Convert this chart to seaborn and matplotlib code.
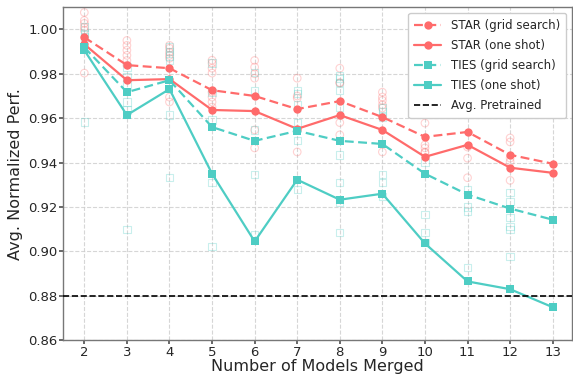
import pandas as pd
import seaborn as sns
import matplotlib.pyplot as plt
import numpy as np

n_models = [2, 3, 4, 5, 6, 7, 8, 9, 10, 11, 12, 13]

star_grid = [0.9964, 0.9839, 0.9825, 0.9726, 0.9700, 0.9641, 0.9677, 0.9605, 0.9516, 0.9538, 0.9435, 0.9395]
star_one = [0.9933, 0.9771, 0.9776, 0.9637, 0.9632, 0.9552, 0.9614, 0.9547, 0.9426, 0.9480, 0.9377, 0.9354]
ties_grid = [0.9919, 0.9717, 0.9771, 0.9560, 0.9498, 0.9543, 0.9498, 0.9484, 0.9350, 0.9256, 0.9193, 0.9143]
ties_one = [0.9906, 0.9614, 0.9731, 0.9350, 0.9045, 0.9323, 0.9233, 0.9260, 0.9036, 0.8865, 0.8830, 0.8749]
avg_pretrained = 0.880

# individual runs (faint markers)
star_runs = {
    2: [1.0076, 1.0040, 1.0027, 1.0010, 0.9996, 0.9803],
    3: [0.9950, 0.9928, 0.9906, 0.9883, 0.9860, 0.9839],
    4: [0.9928, 0.9915, 0.9897, 0.9883, 0.9870, 0.9695, 0.9673],
    5: [0.9861, 0.9848, 0.9825, 0.9803, 0.9717, 0.9695, 0.9673, 0.9650],
    6: [0.9860, 0.9830, 0.9800, 0.9780, 0.9547, 0.9466],
    7: [0.9780, 0.9700, 0.9690, 0.9448],
    8: [0.9825, 0.9760, 0.9758, 0.9580, 0.9525],
    9: [0.9717, 0.9695, 0.9680, 0.9660, 0.9646, 0.9448],
    10: [0.9578, 0.9480, 0.9466, 0.9448, 0.9444],
    11: [0.9628, 0.9470, 0.9420, 0.9332],
    12: [0.9511, 0.9493, 0.9420, 0.9404, 0.9320],
}
ties_runs = {
    2: [1.0010, 0.9980, 0.9965, 0.9583],
    3: [0.9830, 0.9785, 0.9750, 0.9673, 0.9637, 0.9100],
    4: [0.9920, 0.9900, 0.9880, 0.9860, 0.9614, 0.9332],
    5: [0.9848, 0.9717, 0.9592, 0.9310, 0.9022],
    6: [0.9807, 0.9726, 0.9547, 0.9345, 0.9076],
    7: [0.9726, 0.9710, 0.9660, 0.9580, 0.9500, 0.9280],
    8: [0.9790, 0.9780, 0.9760, 0.9726, 0.9650, 0.9435, 0.9310, 0.9220, 0.9085],
    9: [0.9646, 0.9630, 0.9605, 0.9345, 0.9310, 0.9247],
    10: [0.9400, 0.9166, 0.9085, 0.9040],
    11: [0.9278, 0.9200, 0.9180, 0.8928],
    12: [0.9265, 0.9224, 0.9152, 0.9112, 0.9099, 0.8978],
}

red = "#FF6B6B"
teal = "#4ECDC4"

sns.set_theme(style="whitegrid")
plt.rcParams['font.family'] = ['DejaVu Sans']

fig = plt.figure(figsize=(5.73, 3.76), dpi=100)
ax = fig.add_axes([0.110, 0.095, 0.888, 0.886])

def runs_df(runs):
    xs, ys = [], []
    for k, vals in runs.items():
        xs += [k] * len(vals)
        ys += vals
    return pd.DataFrame({"x": xs, "y": ys})

sr = runs_df(star_runs)
tr = runs_df(ties_runs)
sns.scatterplot(data=sr, x="x", y="y", marker="o", s=30, color=red, facecolor="none",
                edgecolor=red, linewidth=0.8, alpha=0.3, ax=ax, legend=False, zorder=2)
sns.scatterplot(data=tr, x="x", y="y", marker="s", s=28, color=teal, facecolor="none",
                edgecolor=teal, linewidth=0.8, alpha=0.3, ax=ax, legend=False, zorder=2)

main = pd.DataFrame({
    "n": n_models,
    "STAR (grid search)": star_grid,
    "STAR (one shot)": star_one,
    "TIES (grid search)": ties_grid,
    "TIES (one shot)": ties_one,
})
styles = {
    "STAR (grid search)": (red, "o", (4, 2)),
    "STAR (one shot)": (red, "o", ""),
    "TIES (grid search)": (teal, "s", (4, 2)),
    "TIES (one shot)": (teal, "s", ""),
}
for name, (c, m, d) in styles.items():
    sns.lineplot(data=main, x="n", y=name, color=c, marker=m, markersize=6,
                 markeredgewidth=0, linewidth=1.6, dashes=d, label=name, ax=ax, zorder=3)
    if d:
        ax.lines[-1].set_linestyle((0, d))

ax.axhline(avg_pretrained, color="black", linestyle="--", linewidth=1.2, label="Avg. Pretrained", zorder=3)

ax.set_xlim(1.5, 13.45)
ax.set_ylim(0.86, 1.01)
ax.set_xticks(n_models)
ax.set_yticks(np.arange(0.86, 1.001, 0.02))
ax.yaxis.set_major_formatter(plt.FormatStrFormatter("%.2f"))
ax.tick_params(labelsize=9.5, length=3, color="#555555", left=True, bottom=True, pad=1)
ax.grid(True, linestyle="--", color="#cccccc", linewidth=0.8, alpha=0.8)
for sp in ax.spines.values():
    sp.set_color("#777777")
    sp.set_linewidth(1.0)
ax.set_xlabel("Number of Models Merged", fontsize=11.5, labelpad=0)
ax.set_ylabel("Avg. Normalized Perf.", fontsize=11.5, labelpad=4)

ax.legend(loc="upper right", fontsize=8.5, frameon=True, framealpha=1.0,
          edgecolor="#cccccc", handlelength=2.3, borderpad=0.5, labelspacing=0.6)

fig.savefig("out.png", dpi=100)
